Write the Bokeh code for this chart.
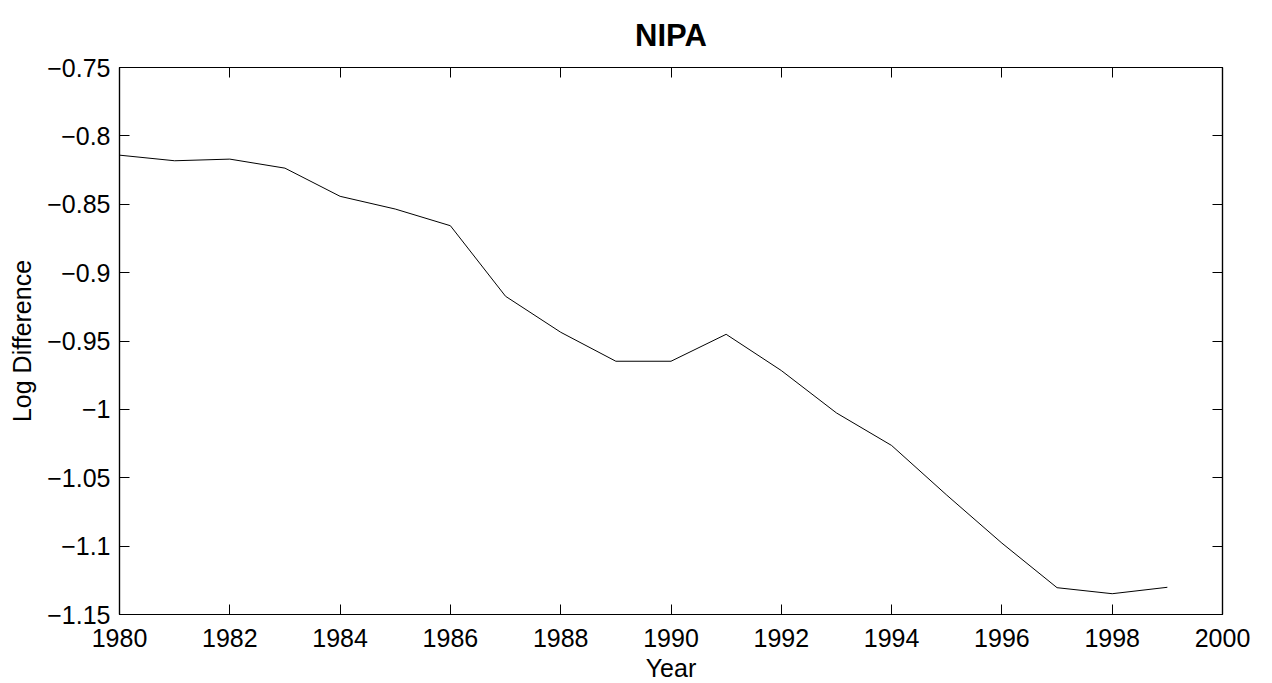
from bokeh.plotting import figure
from bokeh.models import LinearAxis, FixedTicker, Range1d
from bokeh.embed import file_html
from bokeh.resources import INLINE

years = [1980, 1981, 1982, 1983, 1984, 1985, 1986, 1987, 1988, 1989,
         1990, 1991, 1992, 1993, 1994, 1995, 1996, 1997, 1998, 1999]
log_diff = [-0.8141, -0.8182, -0.8170, -0.8236, -0.8442, -0.8535, -0.8657, -0.9173,
            -0.9436, -0.9648, -0.9648, -0.9451, -0.9716, -1.0026, -1.0264, -1.0627,
            -1.0978, -1.1304, -1.1348, -1.1301]

x_ticks = [1980, 1982, 1984, 1986, 1988, 1990, 1992, 1994, 1996, 1998, 2000]
y_ticks = [-1.15, -1.1, -1.05, -1.0, -0.95, -0.9, -0.85, -0.8, -0.75]
y_tick_labels = ["\u22121.15", "\u22121.1", "\u22121.05", "\u22121", "\u22120.95",
                 "\u22120.9", "\u22120.85", "\u22120.8", "\u22120.75"]

FONT = "Liberation Sans"

p = figure(output_backend="svg", toolbar_location=None,
           frame_width=1103, frame_height=547,
           x_range=Range1d(1980, 2000), y_range=Range1d(-1.15, -0.75),
           title="NIPA", min_border_left=119, min_border_right=33,
           min_border_top=65, min_border_bottom=64)

p.title.align = "center"
p.title.text_font = FONT
p.title.text_font_size = "31px"
p.title.text_font_style = "bold"
p.title.text_color = "black"
p.title.standoff = 30

p.line(years, log_diff, line_color="black", line_width=1)

p.xgrid.visible = False
p.ygrid.visible = False
p.background_fill_color = "white"
p.border_fill_color = "white"
p.outline_line_color = "black"
p.outline_line_width = 1.2


def style(ax, labels=True, ticks=None):
    ax.axis_line_color = "black"
    ax.axis_line_width = 1.2
    ax.major_tick_in = 10
    ax.major_tick_out = 0
    ax.minor_tick_line_color = None
    ax.major_tick_line_color = "black"
    ax.major_label_text_font = FONT
    ax.major_label_text_color = "black"
    ax.major_label_text_font_size = "25px"
    ax.axis_label_text_font = FONT
    ax.axis_label_text_font_style = "normal"
    ax.axis_label_text_color = "black"
    ax.axis_label_text_font_size = "25px"
    if not labels:
        ax.major_label_overrides = {t: "" for t in ticks}
        ax.major_label_text_font_size = "1px"
        ax.major_label_standoff = 0


xax = p.xaxis[0]
xax.ticker = FixedTicker(ticks=x_ticks)
xax.axis_label = "Year"
style(xax)
xax.major_label_standoff = 14
xax.axis_label_standoff = 4

yax = p.yaxis[0]
yax.ticker = FixedTicker(ticks=y_ticks)
yax.major_label_overrides = {t: l for t, l in zip(y_ticks, y_tick_labels)}
yax.axis_label = "Log Difference"
style(yax)
yax.major_label_standoff = 9
yax.axis_label_standoff = 8

top = LinearAxis(ticker=FixedTicker(ticks=x_ticks))
style(top, labels=False, ticks=x_ticks)
p.add_layout(top, "above")

right = LinearAxis(ticker=FixedTicker(ticks=y_ticks))
style(right, labels=False, ticks=y_ticks)
p.add_layout(right, "right")

open("out.html", "w").write(file_html(p, INLINE))
